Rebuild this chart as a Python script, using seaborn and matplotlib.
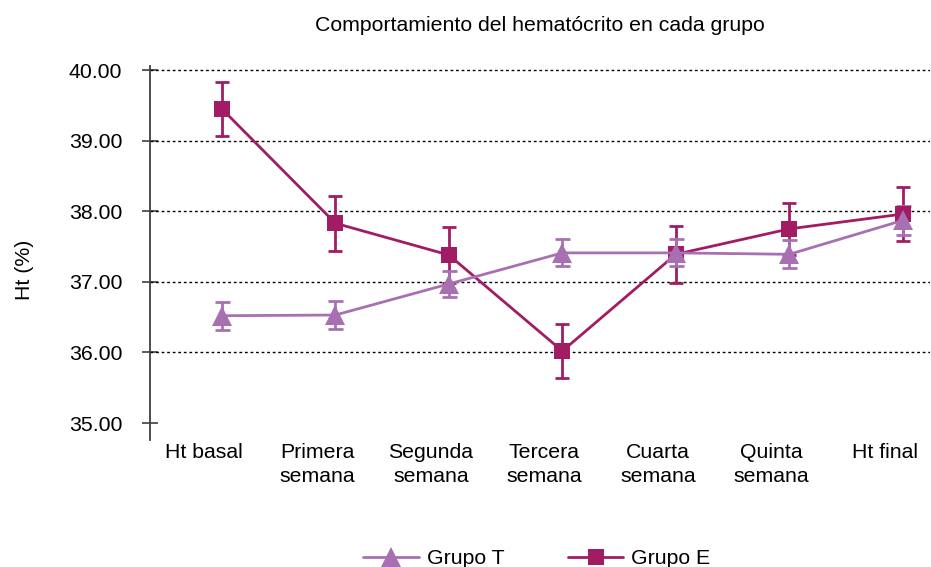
import matplotlib
matplotlib.use("Agg")
import matplotlib.pyplot as plt
import matplotlib.transforms as mtransforms
import seaborn as sns
import pandas as pd
import numpy as np

categories = ["Ht basal", "Primera\nsemana", "Segunda\nsemana", "Tercera\nsemana",
              "Cuarta\nsemana", "Quinta\nsemana", "Ht final"]
grupo_t = [36.52, 36.53, 36.97, 37.41, 37.41, 37.39, 37.87]
grupo_t_err = [0.20, 0.20, 0.19, 0.19, 0.19, 0.20, 0.20]
grupo_e = [39.45, 37.83, 37.38, 36.02, 37.39, 37.75, 37.96]
grupo_e_err = [0.38, 0.39, 0.39, 0.38, 0.40, 0.37, 0.38]
yticks = [35, 36, 37, 38, 39, 40]

col_t = "#A870B2"
col_e = "#A11C63"

sns.set_theme(style="white")
plt.rcParams['font.family'] = ['Liberation Sans', 'DejaVu Sans']
plt.rcParams.update({"text.color": "black", "axes.labelcolor": "black",
                     "xtick.color": "black", "ytick.color": "black"})

pos = np.arange(len(categories))
df = pd.concat([
    pd.DataFrame({"pos": pos, "ht": grupo_e, "err": grupo_e_err, "grupo": "Grupo E"}),
    pd.DataFrame({"pos": pos, "ht": grupo_t, "err": grupo_t_err, "grupo": "Grupo T"}),
])

fig = plt.figure(figsize=(9.31, 5.67), dpi=100)
ax = fig.add_axes([0.161, 0.224, 0.838, 0.66])

styles = {"Grupo E": (col_e, "s", 12, 4.7), "Grupo T": (col_t, "^", 14, 5.4)}
for g in ["Grupo E", "Grupo T"]:
    d = df[df.grupo == g]
    c, m, ms, cs = styles[g]
    ax.errorbar(d.pos, d.ht, yerr=d.err, fmt="none", ecolor=c, elinewidth=2,
                capsize=cs, capthick=2, zorder=3)
    sns.lineplot(data=d, x="pos", y="ht", ax=ax, color=c, marker=m, markersize=ms,
                 markeredgewidth=0, linewidth=2, label=g, zorder=4)

FS = 15.3
ax.set_xlim(-0.634, 6.24)
ax.set_ylim(34.76, 40.06)
ax.set_yticks(yticks)
ax.set_yticklabels([f"{v:.2f}" for v in yticks], fontsize=FS)
ax.set_xticks(pos)
ax.set_xticklabels(categories, fontsize=FS, linespacing=1.35)
ax.tick_params(axis="x", length=0, pad=2, bottom=False)
ax.tick_params(axis="y", left=True, length=12, width=1.2, color="#404040",
               direction="inout", pad=14)
shift = mtransforms.ScaledTranslation(-0.18, 0, fig.dpi_scale_trans)
for lbl in ax.get_xticklabels():
    lbl.set_transform(lbl.get_transform() + shift)
for v in yticks[1:]:
    ax.axhline(v, color="black", linestyle=(0, (2, 2)), linewidth=1, zorder=1)

for s in ["top", "right", "bottom"]:
    ax.spines[s].set_visible(False)
ax.spines["left"].set_color("#404040")
ax.spines["left"].set_linewidth(1.3)

ax.set_xlabel("")
ax.set_ylabel("Ht (%)", fontsize=FS)
ax.yaxis.set_label_coords(-0.149, 0.455)
ax.set_title("Comportamiento del hematócrito en cada grupo", fontsize=FS, pad=25)

handles, labels = ax.get_legend_handles_labels()
ax.get_legend().remove()
order = [labels.index("Grupo T"), labels.index("Grupo E")]
fig.legend([handles[i] for i in order], [labels[i] for i in order],
           loc="center", bbox_to_anchor=(537 / 931, 0.015), ncol=2, frameon=False,
           fontsize=FS, handlelength=2.6, handletextpad=0.38, columnspacing=3.0,
           borderpad=0, borderaxespad=0)

fig.savefig("out.png", dpi=100)
